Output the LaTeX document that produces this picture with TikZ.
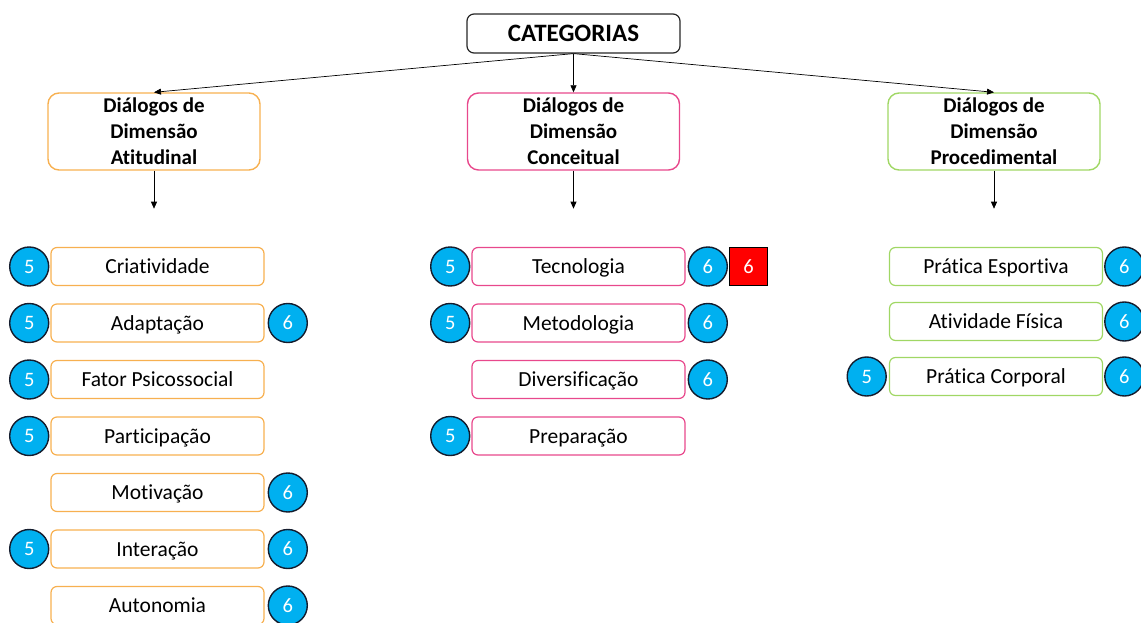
\documentclass[tikz,border=0pt]{standalone}
\usepackage{fontspec}
\setmainfont{Carlito}[Ligatures={NoCommon,NoRare,NoContextual}]
\usetikzlibrary{arrows.meta,positioning}
\definecolor{DimOrange}{RGB}{247,176,80}
\definecolor{DimPink}{RGB}{232,72,140}
\definecolor{DimGreen}{RGB}{160,215,100}
\definecolor{BadgeBlue}{RGB}{0,176,240}
\definecolor{BadgeEdge}{RGB}{20,28,45}

\tikzset{
  catbox/.style={draw=black!85,line width=1.2pt,rounded corners=7pt,
    minimum width=213pt,minimum height=39pt,inner sep=0pt,
    font=\fontsize{25}{30}\selectfont\bfseries},
  dimbox/.style={draw=#1,line width=1.4pt,rounded corners=11pt,
    minimum width=212pt,minimum height=77pt,inner sep=0pt,align=center,
    font=\fontsize{21}{26}\selectfont\bfseries},
  itembox/.style={draw=#1,line width=1.2pt,rounded corners=6pt,
    minimum width=213pt,minimum height=38pt,inner sep=0pt,
    text height=14pt,text depth=0pt,font=\fontsize{21.5}{24}\selectfont},
  badge/.style={circle,fill=BadgeBlue,draw=BadgeEdge,line width=1.4pt,
    minimum size=39pt,inner sep=0pt,text=white,font=\fontsize{20.5}{24}\selectfont},
  redtag/.style={fill=red,draw=black,line width=0.9pt,minimum size=38pt,
    inner sep=0pt,text=white,font=\fontsize{20.5}{24}\selectfont},
  link/.style={-{Triangle[length=7pt,width=6pt]},line width=0.7pt}
}

\begin{document}
\begin{tikzpicture}[x=1pt,y=-1pt]
  \useasboundingbox (0,0) rectangle (1141,623);

  % top of the tree
  \node[catbox] (cat) at (573.5,33.5) {CATEGORIAS};
  \node[dimbox=DimOrange] (att) at (154,131.5) {Diálogos de\\Dimensão\\Atitudinal};
  \node[dimbox=DimPink] (con) at (573.5,131.5) {Diálogos de\\Dimensão\\Conceitual};
  \node[dimbox=DimGreen] (pro) at (994,131.5) {Diálogos de\\Dimensão\\Procedimental};

  \foreach \d in {att,con,pro}{
    \draw[link] (cat.south) -- (\d.north);
    \coordinate[below=38pt of \d.south] (\d-end);
    \draw[link] (\d.south) -- (\d-end);
  }

  % items: text / badge 5 / badge 6
  \foreach \txt/\five/\six [count=\i] in {Criatividade/1/0,Adaptação/1/1,
      Fator Psicossocial/1/0,Participação/1/0,Motivação/0/1,Interação/1/1,Autonomia/0/1}{
    \node[itembox=DimOrange] (att\i) at (157.5,{266.5+56.5*(\i-1)}) {\txt};
    \ifnum\five=1 \node[badge,left=1pt of att\i] (att\i-5) {5};\fi
    \ifnum\six=1 \node[badge,right=3pt of att\i] (att\i-6) {6};\fi
  }
  \foreach \txt/\five/\six [count=\i] in {Tecnologia/1/1,Metodologia/1/1,
      Diversificação/0/1,Preparação/1/0}{
    \node[itembox=DimPink] (con\i) at (578.5,{266.5+56.5*(\i-1)}) {\txt};
    \ifnum\five=1 \node[badge,left=1pt of con\i] (con\i-5) {5};\fi
    \ifnum\six=1 \node[badge,right=2pt of con\i] (con\i-6) {6};\fi
  }
  \node[redtag,right=1pt of con1-6] (con1-tag) {6};
  \foreach \txt/\five/\six [count=\i] in {Prática Esportiva/0/1,Atividade Física/0/1,
      Prática Corporal/1/1}{
    \node[itembox=DimGreen] (pro\i) at (996,{266.5+55*(\i-1)}) {\txt};
    \ifnum\five=1 \node[badge,left=2pt of pro\i] (pro\i-5) {5};\fi
    \ifnum\six=1 \node[badge,right=1pt of pro\i] (pro\i-6) {6};\fi
  }
\end{tikzpicture}
\end{document}
